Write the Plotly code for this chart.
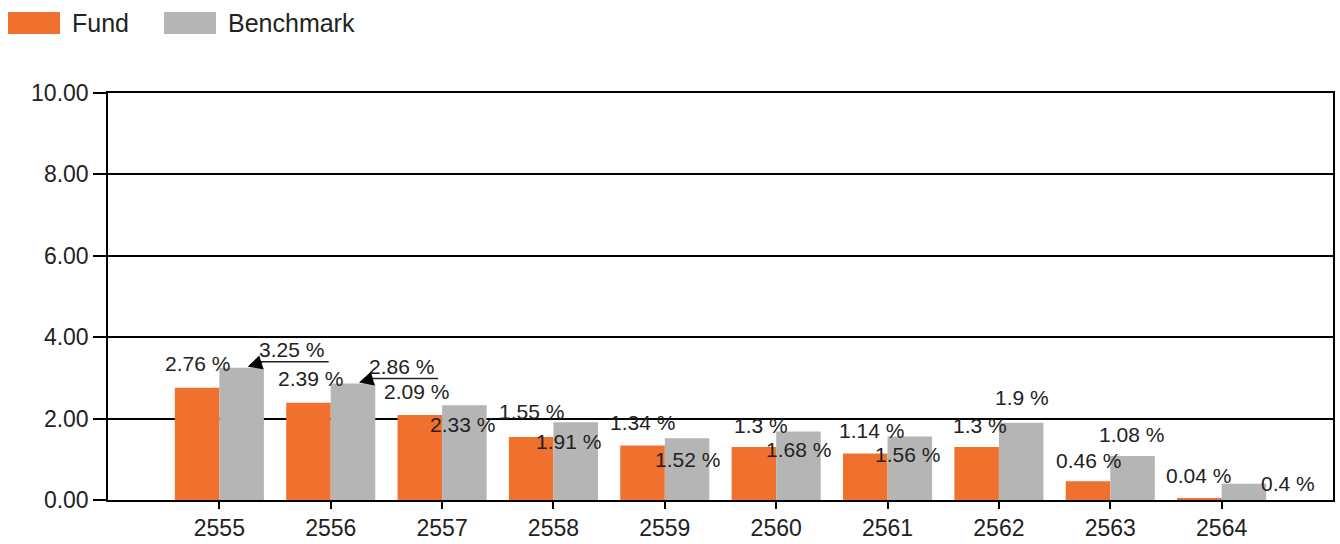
import plotly.graph_objects as go

years = ["2555", "2556", "2557", "2558", "2559", "2560", "2561", "2562", "2563", "2564"]
fund = [2.76, 2.39, 2.09, 1.55, 1.34, 1.30, 1.14, 1.30, 0.46, 0.04]
benchmark = [3.25, 2.86, 2.33, 1.91, 1.52, 1.68, 1.56, 1.90, 1.08, 0.40]
y_ticks = [0, 2, 4, 6, 8, 10]

FUND_COLOR = "#F0702D"
BENCH_COLOR = "#B5B5B5"
TEXT_COLOR = "#222222"
FONT = "Liberation Sans, Arial, sans-serif"

# label placement (pixel offsets of label centre from bar top-centre)
fund_off = [(0, 24), (2, 24), (-3, 23), (0, 25), (0, 23), (7, 22), (6, 23), (3, 22), (0, 21), (-1, 23)]
bench_off = [(50, 18), (48, 17), (-2, -19), (-7, -19), (0, -21), (0, -18), (-2, -18), (1, 25), (-1, 22), (44, 0)]
arrow_idx = [0, 1]

x = list(range(len(years)))
fig = go.Figure()
fig.add_trace(go.Bar(x=x, y=fund, name="Fund", marker=dict(color=FUND_COLOR, line=dict(width=0))))
fig.add_trace(go.Bar(x=x, y=benchmark, name="Benchmark", marker=dict(color=BENCH_COLOR, line=dict(width=0))))

half = 0.2  # half of a bar slot within group (bargap 0.2 -> group 0.8, 2 bars)

annotations = []
shapes = []
lab_font = dict(family=FONT, size=21, color=TEXT_COLOR)

def fmt(v):
    s = ("%.2f" % v).rstrip("0").rstrip(".")
    return s + " %"

for i, v in enumerate(fund):
    dx, dy = fund_off[i]
    annotations.append(dict(x=i - half, y=v, xref="x", yref="y", text=fmt(v), showarrow=False,
                            xshift=dx, yshift=dy, font=lab_font))

for i, v in enumerate(benchmark):
    dx, dy = bench_off[i]
    t = fmt(v)
    annotations.append(dict(x=i + half, y=v, xref="x", yref="y", text=t, showarrow=False,
                            xshift=dx, yshift=dy, font=lab_font))
    if i in arrow_idx:
        w = 74
        shapes.append(dict(type="line", xref="x", yref="y", xsizemode="pixel", ysizemode="pixel",
                           xanchor=i + half, yanchor=v,
                           x0=dx - w / 2, x1=dx + w / 2, y0=dy - 12, y1=dy - 12,
                           line=dict(color=TEXT_COLOR, width=1.5)))
        annotations.append(dict(x=i + half, y=v, xref="x", yref="y", text="", showarrow=True,
                                xshift=6, yshift=1, ax=dx - w / 2 + 3, ay=-(dy - 12) + 1,
                                arrowhead=2, arrowsize=2.4, arrowwidth=1.2, arrowcolor="#000",
                                standoff=0))

# manual legend
leg_font = dict(family=FONT, size=25, color=TEXT_COLOR)
W, H = 1340, 544
L, R, T, B = 108, 7, 93, 44
pw, ph = W - L - R, H - T - B

def px(xp):
    return (xp - L) / pw

def py(yp):
    return (H - B - yp) / ph

for (x0, x1, col, name, tx) in [(8, 60, FUND_COLOR, "Fund", 70), (164, 216, BENCH_COLOR, "Benchmark", 226)]:
    shapes.append(dict(type="rect", xref="paper", yref="paper", x0=px(x0), x1=px(x1), y0=py(34), y1=py(12),
                       fillcolor=col, line=dict(width=0)))
    annotations.append(dict(x=px(tx), y=py(23), xref="paper", yref="paper", text=name, showarrow=False,
                            xanchor="left", yanchor="middle", font=leg_font))

fig.update_layout(
    width=W, height=H,
    margin=dict(l=L, r=R, t=T, b=B, pad=0, autoexpand=False),
    paper_bgcolor="white", plot_bgcolor="white",
    barmode="group", bargap=0.2, bargroupgap=0,
    showlegend=False,
    font=dict(family=FONT, color=TEXT_COLOR),
    annotations=annotations, shapes=shapes,
    xaxis=dict(range=[-1, 10], tickmode="array", tickvals=x, ticktext=years, automargin=False,
               showgrid=False, showline=True, linecolor="black", linewidth=1.5, mirror=True,
               ticks="outside", ticklen=7, tickcolor="black", tickwidth=1.5, ticklabelstandoff=0,
               tickfont=dict(family=FONT, size=23, color=TEXT_COLOR), zeroline=False),
    yaxis=dict(range=[0, 10], tickmode="array", tickvals=y_ticks, ticktext=["%.2f" % t for t in y_ticks],
               automargin=False,
               showgrid=True, gridcolor="black", gridwidth=1.5,
               showline=True, linecolor="black", linewidth=1.5, mirror=True,
               ticks="outside", ticklen=13, tickcolor="black", tickwidth=1.5,
               tickfont=dict(family=FONT, size=23, color=TEXT_COLOR), zeroline=False),
)

fig.write_html("out.html", config={"displayModeBar": False},
               post_script="document.body.style.margin='0px';document.body.style.overflow='hidden';")
